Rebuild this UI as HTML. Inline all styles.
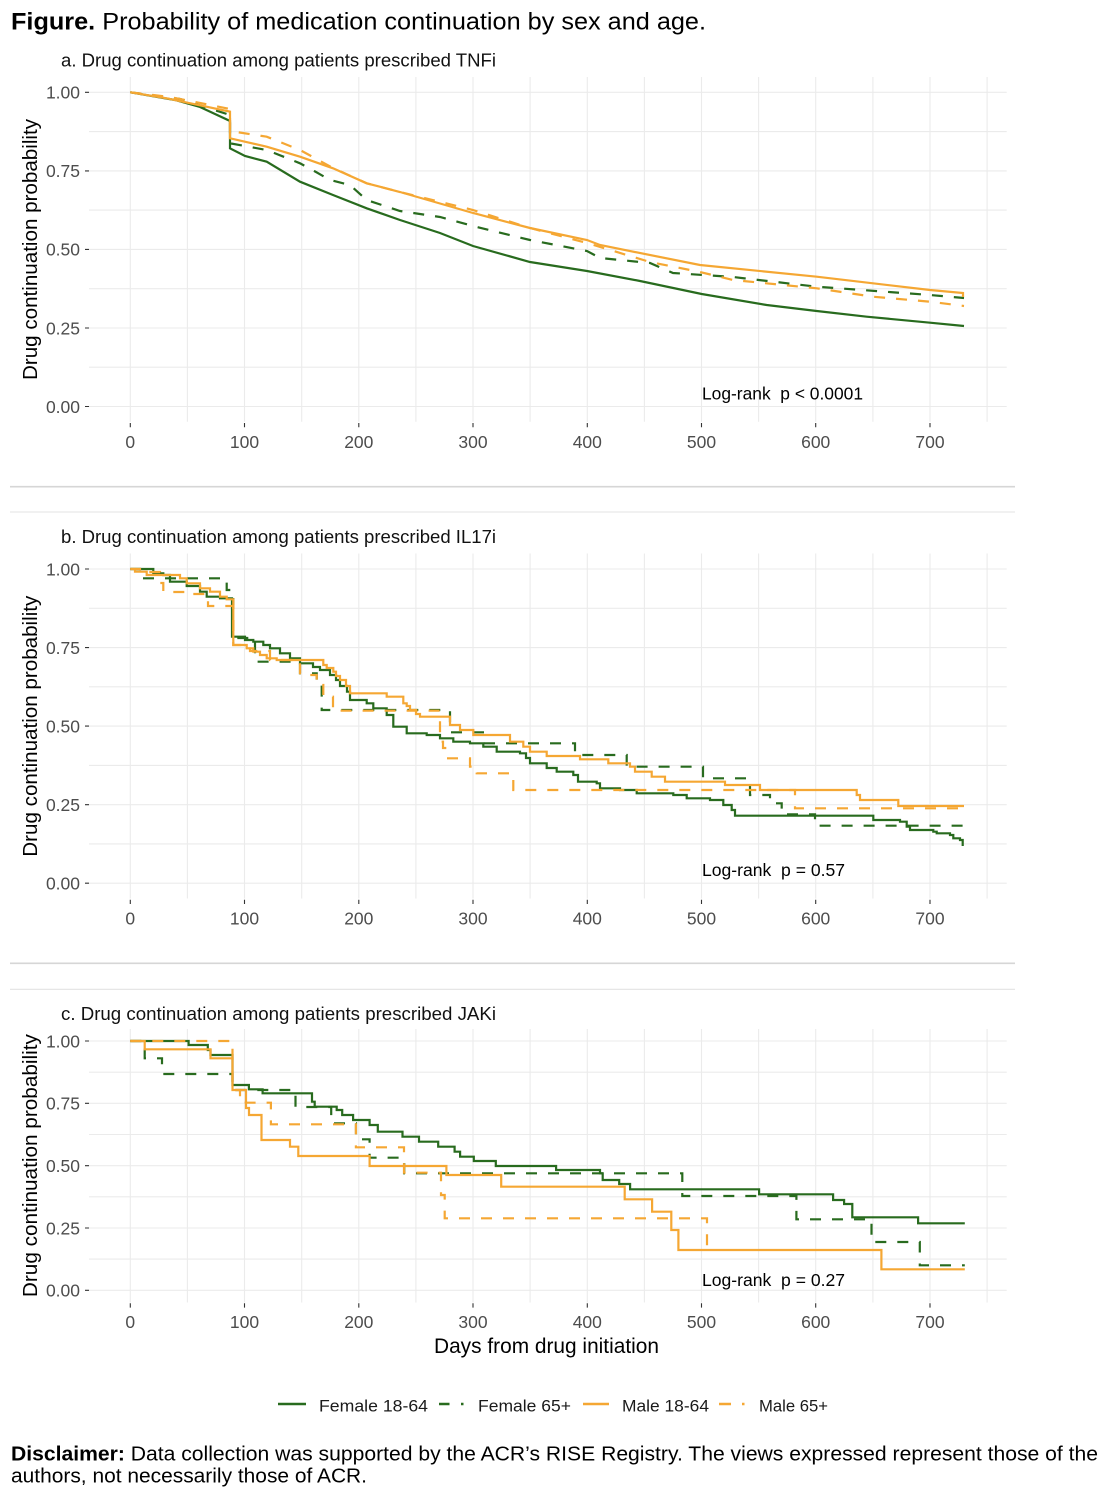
<!DOCTYPE html>
<html>
<head>
<meta charset="utf-8">
<style>
html,body{margin:0;padding:0;background:#fff;}
svg{display:block;}
text{font-family:"Liberation Sans",Arial,sans-serif;}
.gr{stroke:#ebebeb;stroke-width:1.1;fill:none;}
.tk{stroke:#333;stroke-width:1.1;}
.yl{font-size:17.5px;fill:#4d4d4d;text-anchor:end;}
.xl{font-size:17.5px;fill:#4d4d4d;text-anchor:middle;}
.c{fill:none;stroke-width:2.2;stroke-linecap:butt;stroke-linejoin:miter;}
.g{stroke:#286b1e;}
.o{stroke:#f5a733;}
.d{stroke-dasharray:11 11;}
.st{font-size:18px;fill:#111;}
.yt{font-size:20px;fill:#000;text-anchor:middle;}
.lr{font-size:17.4px;fill:#000;}
.lg{font-size:17px;fill:#1a1a1a;}
</style>
</head>
<body>
<svg width="1110" height="1492" viewBox="0 0 1110 1492" xmlns="http://www.w3.org/2000/svg">
<rect width="1110" height="1492" fill="#fff"/>

<!-- Main title -->
<text x="11" y="29.5" font-size="24" fill="#000" textLength="695" lengthAdjust="spacingAndGlyphs"><tspan font-weight="bold">Figure.</tspan> Probability of medication continuation by sex and age.</text>

<!-- ================= PANEL A ================= -->
<text class="st" x="61" y="66.5" textLength="435" lengthAdjust="spacingAndGlyphs">a. Drug continuation among patients prescribed TNFi</text>
<g>
<!-- horizontal grid -->
<path class="gr" d="M89,92.3H1006.7M89,131.6H1006.7M89,170.9H1006.7M89,210.1H1006.7M89,249.4H1006.7M89,288.7H1006.7M89,328H1006.7M89,367.2H1006.7M89,406.5H1006.7"/>
<!-- vertical grid -->
<path class="gr" d="M130.3,77V421.7M187.4,77V421.7M244.5,77V421.7M301.7,77V421.7M358.8,77V421.7M415.9,77V421.7M473,77V421.7M530.1,77V421.7M587.3,77V421.7M644.4,77V421.7M701.5,77V421.7M758.6,77V421.7M815.7,77V421.7M872.9,77V421.7M930,77V421.7M987.1,77V421.7"/>
<!-- ticks -->
<path class="tk" d="M85,92.3H89M85,170.9H89M85,249.4H89M85,328H89M85,406.5H89M130.3,423V427.3M244.5,423V427.3M358.8,423V427.3M473,423V427.3M587.3,423V427.3M701.5,423V427.3M815.7,423V427.3M930,423V427.3"/>
<text class="yl" x="80" y="98.6">1.00</text>
<text class="yl" x="80" y="177.2">0.75</text>
<text class="yl" x="80" y="255.7">0.50</text>
<text class="yl" x="80" y="334.3">0.25</text>
<text class="yl" x="80" y="412.8">0.00</text>
<text class="xl" x="130.3" y="447.8">0</text>
<text class="xl" x="244.5" y="447.8">100</text>
<text class="xl" x="358.8" y="447.8">200</text>
<text class="xl" x="473" y="447.8">300</text>
<text class="xl" x="587.3" y="447.8">400</text>
<text class="xl" x="701.5" y="447.8">500</text>
<text class="xl" x="815.7" y="447.8">600</text>
<text class="xl" x="930" y="447.8">700</text>
<text class="yt" transform="translate(37,249.5) rotate(-90)" textLength="261" lengthAdjust="spacingAndGlyphs">Drug continuation probability</text>
<!-- curves -->
<path class="c g" d="M130.3,92.3L175,100L200,107L230,121V148.3L245,156L266.7,161.7L300,181.7L333,195L366.7,208.3L400,220L440,233L473,246L530,262L587,271L640,281L701.7,294L766.7,305L816.7,311L866.7,316.7L930,322.7L964,326"/>
<path class="c g d" d="M130.3,92.3L180,99L230,115V143.3L266.7,150L300,163.3L316,172L330,180L350,185L366.7,200L400,211L440,217L473,226L530,240L587,251L600,258L650,263L673,273L733,277L816.7,286.7L930,295L964,298"/>
<path class="c o" d="M130.3,92.3L166.7,98.3L230,111.7V138.3L266.7,146.7L300,156.7L333,168.3L366.7,183.3L400,192L473,213L530,228L587,240L600,245L700,265L816.7,276.7L930,290L963,293V297"/>
<path class="c o d" d="M130.3,92.3L170,97L230,109V131L266.7,136.7L300,150L333,168L366.7,183.3L400,192L473,210L530,228L587,243L650,262L700,272L733,280L816.7,288.3L873,296.7L930,301.7L964,306"/>
<text class="lr" x="702" y="399.3" xml:space="preserve" textLength="161" lengthAdjust="spacingAndGlyphs">Log-rank  p &lt; 0.0001</text>
</g>

<!-- separators a/b -->
<path d="M10,486.7H1015" stroke="#d6d6d6" stroke-width="1.6"/>
<path d="M10,512H1015" stroke="#e3e3e3" stroke-width="1.1"/>

<!-- ================= PANEL B ================= -->
<text class="st" x="61" y="543.2" textLength="435" lengthAdjust="spacingAndGlyphs">b. Drug continuation among patients prescribed IL17i</text>
<g>
<path class="gr" d="M89,569H1006.7M89,608.3H1006.7M89,647.6H1006.7M89,686.8H1006.7M89,726.1H1006.7M89,765.4H1006.7M89,804.7H1006.7M89,843.9H1006.7M89,883.2H1006.7"/>
<path class="gr" d="M130.3,553.5V898.5M187.4,553.5V898.5M244.5,553.5V898.5M301.7,553.5V898.5M358.8,553.5V898.5M415.9,553.5V898.5M473,553.5V898.5M530.1,553.5V898.5M587.3,553.5V898.5M644.4,553.5V898.5M701.5,553.5V898.5M758.6,553.5V898.5M815.7,553.5V898.5M872.9,553.5V898.5M930,553.5V898.5M987.1,553.5V898.5"/>
<path class="tk" d="M85,569H89M85,647.6H89M85,726.1H89M85,804.7H89M85,883.2H89M130.3,899.7V904M244.5,899.7V904M358.8,899.7V904M473,899.7V904M587.3,899.7V904M701.5,899.7V904M815.7,899.7V904M930,899.7V904"/>
<text class="yl" x="80" y="575.3">1.00</text>
<text class="yl" x="80" y="653.9">0.75</text>
<text class="yl" x="80" y="732.4">0.50</text>
<text class="yl" x="80" y="811">0.25</text>
<text class="yl" x="80" y="889.5">0.00</text>
<text class="xl" x="130.3" y="924.5">0</text>
<text class="xl" x="244.5" y="924.5">100</text>
<text class="xl" x="358.8" y="924.5">200</text>
<text class="xl" x="473" y="924.5">300</text>
<text class="xl" x="587.3" y="924.5">400</text>
<text class="xl" x="701.5" y="924.5">500</text>
<text class="xl" x="815.7" y="924.5">600</text>
<text class="xl" x="930" y="924.5">700</text>
<text class="yt" transform="translate(37,726.2) rotate(-90)" textLength="261" lengthAdjust="spacingAndGlyphs">Drug continuation probability</text>
<path class="c g" d="M130.3,569H153.3V573.3H163.3V575H170V581.7H186.7V586H200V591.7H206.7V596.7H220V598.3H232V636.7H245V640H253.3V641.7H263.3V645H270V648.3H280V653.3H290V658.3H300V663.3H313V667H320V670H330V675H336V680H340V686H347V691.7H350V700H366.7V703.3H373.3V708.3H386.7V715H393.3V726.7H406.7V733.3H426.7V735H440V738.3H453.3V741.7H470V743.3H483.3V746.7H496.7V751.7H520V753.3H526V758H530V763.3H546.7V768H556.7V771.7H573.3V775H578V781.7H596.7V783.3H600V788.3H620V790H636.7V793.3H673.3V795H686.7V798.3H710V800H723.3V805H731.7V810H735V815.7H873.3V820H900V821.7H906.7V826.7H910V830H933.3V831.7H936.7V833.3H950V835H953.3V838.3H960V840H962.7V846"/>
<path class="c g d" d="M130.3,569H140V578.3H226.7V590H233.3V638H255V661.7H300V673.3H316.7V685H321.7V710H450V732.3H485V743.3H575V755H626.7V766.7H703V778.3H750V795H770V803.3H781.7V814.3H815V825.7H964"/>
<path class="c o" d="M130.3,569H135V571.7H146.7V575H180V578.3H186.7V583.3H200V588.3H210V591.7H220V596.7H226.7V599.3H233.3V645H246.7V648.3H253.3V651.7H260V655H266.7V658.3H276.7V660H323.3V665H326.7V668H333.3V671.7H336V676H340V680H346V686H350V693.3H386.7V696.7H403.3V703.3H406.7V706H410V710H416V714H420V716.7H450V725H460V730H473.3V735H510V741.7H523.3V746.7H530V751.7H546.7V756H580V759.3H608.3V763.3H630V766.7H635V771.7H651.7V776.7H665V781.7H725V785H760V790H856.7V795H860V800H898.3V806H964"/>
<path class="c o d" d="M130.3,569H140V572H160V583H163.3V592H186.7V594H208V606H233.3V645H250V651H270V660H300V675H316.7V685H323.3V696.7H333V710.7H440V741.7H443V748H446.7V758.3H470V766.7H476.7V773.3H513.3V790H795V808.3H964"/>
<text class="lr" x="702" y="876" xml:space="preserve" textLength="143" lengthAdjust="spacingAndGlyphs">Log-rank  p = 0.57</text>
</g>

<!-- separators b/c -->
<path d="M10,963.3H1015" stroke="#d6d6d6" stroke-width="1.6"/>
<path d="M10,989.3H1015" stroke="#e3e3e3" stroke-width="1.1"/>

<!-- ================= PANEL C ================= -->
<text class="st" x="61" y="1019.8" textLength="435" lengthAdjust="spacingAndGlyphs">c. Drug continuation among patients prescribed JAKi</text>
<g>
<path class="gr" d="M89,1041H1006.7M89,1072.2H1006.7M89,1103.3H1006.7M89,1134.5H1006.7M89,1165.7H1006.7M89,1196.8H1006.7M89,1228H1006.7M89,1259.1H1006.7M89,1290.3H1006.7"/>
<path class="gr" d="M130.3,1029V1302.5M187.4,1029V1302.5M244.5,1029V1302.5M301.7,1029V1302.5M358.8,1029V1302.5M415.9,1029V1302.5M473,1029V1302.5M530.1,1029V1302.5M587.3,1029V1302.5M644.4,1029V1302.5M701.5,1029V1302.5M758.6,1029V1302.5M815.7,1029V1302.5M872.9,1029V1302.5M930,1029V1302.5M987.1,1029V1302.5"/>
<path class="tk" d="M85,1041H89M85,1103.3H89M85,1165.7H89M85,1228H89M85,1290.3H89M130.3,1303.3V1307.6M244.5,1303.3V1307.6M358.8,1303.3V1307.6M473,1303.3V1307.6M587.3,1303.3V1307.6M701.5,1303.3V1307.6M815.7,1303.3V1307.6M930,1303.3V1307.6"/>
<text class="yl" x="80" y="1047.3">1.00</text>
<text class="yl" x="80" y="1109.6">0.75</text>
<text class="yl" x="80" y="1172">0.50</text>
<text class="yl" x="80" y="1234.3">0.25</text>
<text class="yl" x="80" y="1296.6">0.00</text>
<text class="xl" x="130.3" y="1327.8">0</text>
<text class="xl" x="244.5" y="1327.8">100</text>
<text class="xl" x="358.8" y="1327.8">200</text>
<text class="xl" x="473" y="1327.8">300</text>
<text class="xl" x="587.3" y="1327.8">400</text>
<text class="xl" x="701.5" y="1327.8">500</text>
<text class="xl" x="815.7" y="1327.8">600</text>
<text class="xl" x="930" y="1327.8">700</text>
<text class="yt" transform="translate(37,1165.6) rotate(-90)" textLength="263" lengthAdjust="spacingAndGlyphs">Drug continuation probability</text>
<path class="c g" d="M130.3,1041H188.6V1045H207.8V1050H210.5V1055H232.5V1085H248.9V1089.3H262.6V1093.3H312V1101.7H314.7V1106.7H336.7V1110H342.2V1115H353.1V1120H369.6V1125H377.8V1131.7H402.5V1136.7H419V1141.7H438.2V1146.7H454.6V1151.7H460.1V1156.7H473.8V1161H495.8V1166H556.1V1170H600V1173.3H602.7V1180H619.2V1184H630.1V1189.3H759.1V1194.3H833.1V1200H844.1V1204H852.3V1217.3H918.1V1223.3H964.8"/>
<path class="c g d" d="M130.3,1041H144.7V1058.3H162V1074H232.5V1090H295.5V1107H331.2V1123.3H356V1139.3H369.6V1157.7H404.2V1173.3H682.3V1196H796.4V1219.3H871.5V1242H919.8V1265.3H964.8"/>
<path class="c o" d="M130.3,1041H144.7V1049.3H210.5V1058.3H232.5V1090H246V1108H249V1115H261.5V1140H290V1146.7H298.3V1156H369.6V1166H446.4V1175H501.2V1186.7H624.7V1199.3H652.1V1211.7H671.3V1230H678.4V1250H881.4V1269.3H964.8"/>
<path class="c o d" d="M130.3,1041H232.5V1090H240V1102.7H270.9V1124.3H355.9V1147.3H404V1172.7H441V1195H444.7V1218.3H707V1255"/>
<text class="lr" x="702" y="1286" xml:space="preserve" textLength="143" lengthAdjust="spacingAndGlyphs">Log-rank  p = 0.27</text>
</g>

<!-- X axis title -->
<text x="434" y="1353" font-size="21" fill="#000" textLength="225" lengthAdjust="spacingAndGlyphs">Days from drug initiation</text>

<!-- Legend -->
<path d="M278,1404H306" stroke="#286b1e" stroke-width="2.4"/>
<text class="lg" x="319" y="1411.5" textLength="109" lengthAdjust="spacingAndGlyphs">Female 18-64</text>
<path d="M439,1404H449.5M461,1404H463.5" stroke="#286b1e" stroke-width="2.4"/>
<text class="lg" x="478" y="1411.5" textLength="93" lengthAdjust="spacingAndGlyphs">Female 65+</text>
<path d="M583,1404H609" stroke="#f5a733" stroke-width="2.4"/>
<text class="lg" x="622" y="1411.5" textLength="87" lengthAdjust="spacingAndGlyphs">Male 18-64</text>
<path d="M719,1404H731M742,1404H744.5" stroke="#f5a733" stroke-width="2.4"/>
<text class="lg" x="759" y="1411.5" textLength="69" lengthAdjust="spacingAndGlyphs">Male 65+</text>

<!-- Disclaimer -->
<text x="11" y="1460.5" font-size="20" fill="#000" textLength="1087" lengthAdjust="spacingAndGlyphs"><tspan font-weight="bold">Disclaimer:</tspan> Data collection was supported by the ACR’s RISE Registry. The views expressed represent those of the</text>
<text x="11" y="1482.5" font-size="20" fill="#000" textLength="356" lengthAdjust="spacingAndGlyphs">authors, not necessarily those of ACR.</text>
</svg>
</body>
</html>
